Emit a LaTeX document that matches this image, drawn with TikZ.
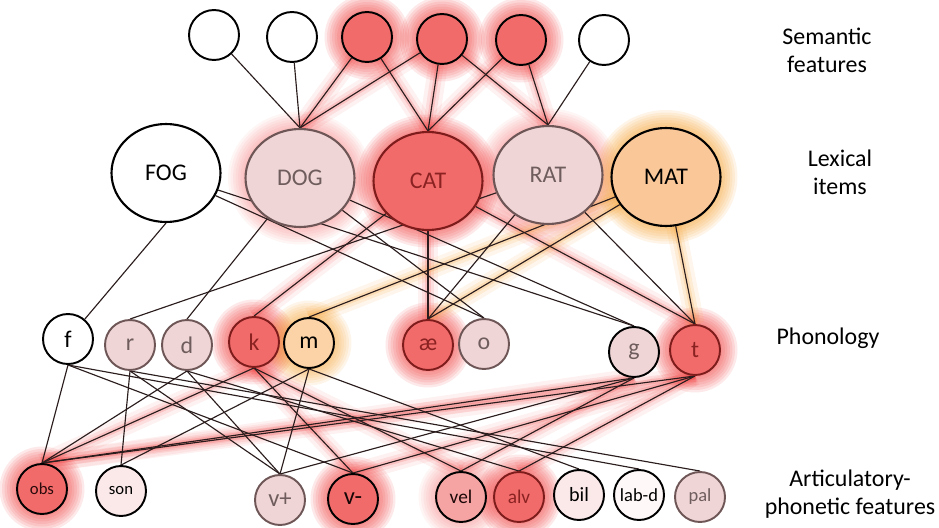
\documentclass[tikz,border=0pt]{standalone}
\usepackage{fontspec}
\setmainfont{Carlito}
\usetikzlibrary{shapes.geometric}
\pgfdeclarelayer{glow}
\pgfdeclarelayer{edges}
\pgfsetlayers{glow,edges,main}
\definecolor{redf}{HTML}{F26B6B}
\definecolor{redd}{HTML}{7E1C1C}
\definecolor{redt}{HTML}{8B2222}
\definecolor{pinkf}{HTML}{EFD5D6}
\definecolor{pinkd}{HTML}{6E5656}
\definecolor{pinkt}{HTML}{6F5C5C}
\definecolor{palef}{HTML}{FBE9E9}
\definecolor{whitef}{HTML}{FFF8F8}
\definecolor{velf}{HTML}{F5A3A3}
\definecolor{matf}{HTML}{FAC898}
\definecolor{mf}{HTML}{FBD3A6}
\definecolor{glowred}{HTML}{F03838}
\definecolor{gloworange}{HTML}{F5A030}
\definecolor{edgec}{HTML}{2B1D1D}
\newcommand{\halo}[5]{\foreach \i in {1,...,7}{\fill[#1, fill opacity=#5] (#2.center) ellipse [x radius={#3+\i*0.05cm}, y radius={#4+\i*0.05cm}];}}
\begin{document}
\begin{tikzpicture}[x=0.02cm,y=-0.02cm,
  nd/.style={circle, draw=black, fill=white, line width=1.1pt, minimum size=1cm, inner sep=0pt, font=\fontsize{13.6}{16}\selectfont},
  lex/.style={ellipse, draw=black, fill=white, line width=1.2pt, minimum width=2.18cm, minimum height=1.96cm, inner sep=0pt, font=\fontsize{13.6}{16}\selectfont},
  isred/.style={fill=redf, draw=redd, text=redt},
  isredb/.style={fill=redf, draw=black, text=redt},
  ispink/.style={fill=pinkf, draw=pinkd, text=pinkt},
  ispinkb/.style={fill=pinkf, draw=black, text=pinkt},
  lbl/.style={align=center, font=\fontsize{13.6}{16}\selectfont},
  edge/.style={draw=edgec, line width=0.65pt},
  rg1/.style={draw=glowred, line width=11pt, opacity=.07},
  rg2/.style={draw=glowred, line width=6.5pt, opacity=.1},
  rg3/.style={draw=glowred, line width=3pt, opacity=.17},
  og1/.style={draw=gloworange, line width=11pt, opacity=.09},
  og2/.style={draw=gloworange, line width=6.5pt, opacity=.13},
  og3/.style={draw=gloworange, line width=3pt, opacity=.2}]
\useasboundingbox (0,0) rectangle (939,527);
% semantic features
\node[nd] (s1) at (214,35) {};
\node[nd] (s2) at (292,37) {};
\node[nd,isredb] (s3) at (367,37) {};
\node[nd,isredb] (s4) at (442,39) {};
\node[nd,isredb] (s5) at (521,40) {};
\node[nd] (s6) at (604,40) {};
% lexical items
\node[lex] (FOG) at (166,173) {FOG};
\node[lex,ispink] (DOG) at (300,178) {DOG};
\node[lex,isred] (CAT) at (428,181) {CAT};
\node[lex,ispink] (RAT) at (548,175) {RAT};
\node[lex,fill=matf] (MAT) at (666,177) {MAT};
% phonology
\node[nd] (f) at (68,339) {f};
\node[nd,ispink] (r) at (130,345) {r};
\node[nd,ispink] (d) at (187,345) {d};
\node[nd,isred] (k) at (254,342) {k};
\node[nd,fill=mf] (m) at (309,343) {m};
\node[nd,isred] (ae) at (428,345) {æ};
\node[nd,ispink] (o) at (484,344) {o};
\node[nd,ispinkb] (g) at (634,352) {g};
\node[nd,isred] (t) at (695,350) {t};
% articulatory-phonetic features
\node[nd,isredb,text=black!70!redt,font=\fontsize{9.5}{11}\selectfont] (obs) at (42,489) {obs};
\node[nd,fill=palef,font=\fontsize{9.5}{11}\selectfont] (son) at (121,491) {son};
\node[nd,ispink,font=\fontsize{14}{16}\selectfont] (vp) at (280,500) {v+};
\node[nd,isredb,text=black!85!redt,font=\fontsize{14}{16}\selectfont] (vm) at (353,499) {v-};
\node[nd,fill=velf,text=black!80!redt,font=\fontsize{11}{13}\selectfont] (vel) at (461,497) {vel};
\node[nd,isred,font=\fontsize{11}{13}\selectfont] (alv) at (519,497) {alv};
\node[nd,fill=palef,font=\fontsize{11.5}{13}\selectfont] (bil) at (579,495) {bil};
\node[nd,fill=whitef,font=\fontsize{10.5}{12}\selectfont] (labd) at (639,495) {lab-d};
\node[nd,ispink,font=\fontsize{10.5}{12}\selectfont] (pal) at (700,497) {pal};
% level labels
\node[lbl] (Lsem) at (827,50) {Semantic\\features};
\node[lbl] (Llex) at (840,172) {Lexical\\items};
\node[lbl] (Lpho) at (828,338) {Phonology};
\node[lbl] (Lart) at (850,494) {Articulatory-\\phonetic features};
% connectors
\begin{pgfonlayer}{edges}
\foreach \a/\b in {s1/DOG,s2/DOG,s3/DOG,s4/DOG,s3/CAT,s4/CAT,s5/CAT,s4/RAT,s5/RAT,s6/RAT}
  \draw[edge] (\a) -- (\b.north);
\draw[edge] (FOG.south) -- (f);
\foreach \a/\b in {FOG/o,FOG/g,DOG/d,DOG/o,DOG/g,CAT/k,CAT/ae,CAT/t,RAT/r,RAT/ae,RAT/t,MAT/m,MAT/ae,MAT/t}
  \draw[edge] (\a) -- (\b.north);
\foreach \a/\b in {f/obs,f/vm,f/labd,r/son,r/vp,r/pal,d/obs,d/vp,d/alv,k/obs,k/vm,k/vel,m/son,m/vp,m/bil,g/obs,g/vp,g/vel,t/obs,t/vm,t/alv}
  \draw[edge] (\a.south) -- (\b.north);
\end{pgfonlayer}
% glows
\begin{pgfonlayer}{glow}
\foreach \n in {s3,s4,s5,k,ae,t,obs,vm,alv}
  {\halo{glowred}{\n}{0.5cm}{0.5cm}{0.11}}
\halo{glowred}{vel}{0.5cm}{0.5cm}{0.05}
\halo{glowred}{CAT}{1.09cm}{0.98cm}{0.11}
\halo{glowred}{DOG}{1.09cm}{0.98cm}{0.05}
\halo{glowred}{RAT}{1.09cm}{0.98cm}{0.05}
\halo{gloworange}{MAT}{1.08cm}{0.99cm}{0.11}
\halo{gloworange}{m}{0.5cm}{0.5cm}{0.1}
\foreach \a/\b in {s3/DOG,s4/DOG,s3/CAT,s4/CAT,s5/CAT,s4/RAT,s5/RAT,CAT/k,CAT/ae,CAT/t}
  {\draw[rg1] (\a) -- (\b.north); \draw[rg2] (\a) -- (\b.north); \draw[rg3] (\a) -- (\b.north);}
\foreach \a/\b in {MAT/m,MAT/ae,MAT/t}
  {\draw[og1] (\a) -- (\b.north); \draw[og2] (\a) -- (\b.north); \draw[og3] (\a) -- (\b.north);}
\foreach \a/\b in {k/obs,k/vm,k/vel,t/obs,t/vm,t/alv,g/obs,g/vel}
  {\draw[rg1] (\a.south) -- (\b.north); \draw[rg2] (\a.south) -- (\b.north); \draw[rg3] (\a.south) -- (\b.north);}
\end{pgfonlayer}
\end{tikzpicture}
\end{document}
